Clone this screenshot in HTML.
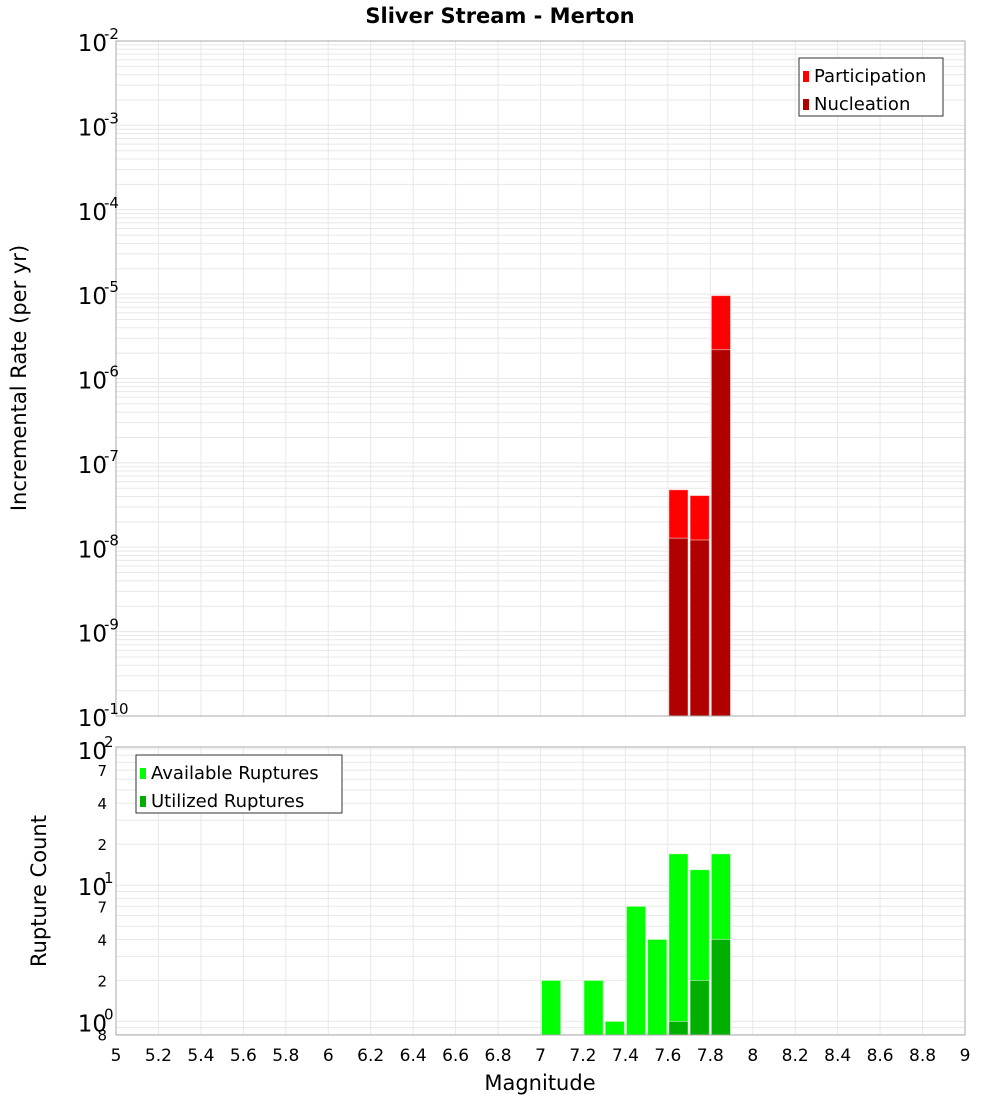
<!DOCTYPE html>
<html><head><meta charset="utf-8"><style>
body{margin:0;background:#fff;}
svg text{font-family:"DejaVu Sans","Liberation Sans",sans-serif;}
</style></head><body>
<svg id="chart" width="1000" height="1100" xmlns="http://www.w3.org/2000/svg">
<text x="500" y="23" text-anchor="middle" font-size="21" font-weight="bold">Sliver Stream - Merton</text>
<text transform="translate(26,378) rotate(-90)" text-anchor="middle" font-size="21">Incremental Rate (per yr)</text>
<text transform="translate(46,891) rotate(-90)" text-anchor="middle" font-size="21">Rupture Count</text>
<text x="540" y="1090" text-anchor="middle" font-size="21">Magnitude</text>
<g id="g"></g>
</svg>
<script>
const rateMags=[7.65,7.75,7.85];
const participation=[4.8e-8,4.1e-8,9.6e-6];
const nucleation=[1.28e-8,1.22e-8,2.2e-6];
const countMags=[7.05,7.25,7.35,7.45,7.55,7.65,7.75,7.85];
const available=[2,2,1,7,4,17,13,17];
const utilMags=[7.65,7.75,7.85];
const utilized=[1,2,4];
const xTicks=["5","5.2","5.4","5.6","5.8","6","6.2","6.4","6.6","6.8","7","7.2","7.4","7.6","7.8","8","8.2","8.4","8.6","8.8","9"];
const topExps=[-2,-3,-4,-5,-6,-7,-8,-9,-10];
const botMinorLabels=[[7,70],[4,40],[2,20],[7,7],[4,4],[2,2],[8,0.8]];

const NS="http://www.w3.org/2000/svg";
const g=document.getElementById('g');
function el(t,a,p){const e=document.createElementNS(NS,t);for(const k in a)e.setAttribute(k,a[k]);(p||g).appendChild(e);return e;}
const L=116,R=965;
const x=m=>L+(m-5)/4*(R-L);
const T1=41,B1=716; const yTop=v=>T1+(-2-Math.log10(v))/8*(B1-T1);
const T2=747,B2=1035,lmax=2.015,lmin=-0.1; const yBot=v=>T2+(lmax-Math.log10(v))/(lmax-lmin)*(B2-T2);

// grids
for(let m=5.2;m<9;m+=0.2){
 for(const [t,b] of [[T1,B1],[T2,B2]]){const ln=el('line',{x1:x(m),x2:x(m),y1:t,y2:b,stroke:'#e8e8e8'});
 }
}
for(let e=-10;e<-2;e++)for(let k=1;k<10;k++){const v=k*Math.pow(10,e);const yy=yTop(v);if(yy<T1||yy>B1)continue;
 const ln=el('line',{x1:L,x2:R,y1:yy,y2:yy,stroke:'#e8e8e8'});}
for(let e=-1;e<3;e++)for(let k=1;k<10;k++){const v=k*Math.pow(10,e);const yy=yBot(v);if(yy<T2||yy>B2)continue;
 const ln=el('line',{x1:L,x2:R,y1:yy,y2:yy,stroke:'#e8e8e8'});}

function bar(m,v,yf,base,fill,name){
 const y0=yf(v);const r=el('rect',{x:x(m-0.05)+1,y:y0,width:x(m+0.05)-x(m-0.05)-2,height:base-y0,fill:fill,stroke:'#fff','stroke-opacity':0.5});
 }
rateMags.forEach((m,i)=>bar(m,participation[i],yTop,B1,'#ff0000','participation-bar'));
rateMags.forEach((m,i)=>bar(m,nucleation[i],yTop,B1,'#b00000','nucleation-bar'));
countMags.forEach((m,i)=>bar(m,available[i],yBot,B2,'#00ff00','available-bar'));
utilMags.forEach((m,i)=>bar(m,utilized[i],yBot,B2,'#00b000','utilized-bar'));

// frames
for(const [t,b,n] of [[T1,B1,'top-plot-frame'],[T2,B2,'bottom-plot-frame']]){
 const f=el('rect',{x:L,y:t,width:R-L,height:b-t,fill:'none',stroke:'#aaa'});}

// x ticks
xTicks.forEach(s=>{const t=el('text',{x:x(parseFloat(s)),y:1061,'text-anchor':'middle','font-size':17});t.textContent=s;
 });
// top y ticks
topExps.forEach(e=>{const yy=yTop(Math.pow(10,e));const t=el('text',{x:107,y:yy+10,'text-anchor':'end','font-size':23});
 t.textContent='10';
 const s=el('text',{x:104,y:yy-2,'font-size':15});s.textContent=String(e);});
// bottom y ticks
[[2,100],[1,10],[0,1]].forEach(([e,v])=>{const yy=yBot(v);const t=el('text',{x:107,y:yy+10,'text-anchor':'end','font-size':23});
 t.textContent='10';
 const s=el('text',{x:104,y:yy-2,'font-size':15});s.textContent=String(e);});
botMinorLabels.forEach(([lab,v])=>{const yy=yBot(v);const t=el('text',{x:107,y:yy+6,'text-anchor':'end','font-size':15});
 t.textContent=String(lab);});

// legends
function legend(x0,y0,w,items,name){
 const lg=el('g',{});
 el('rect',{x:x0,y:y0,width:w,height:58,fill:'#fff',stroke:'#333'},lg);
 items.forEach(([c,s],i)=>{const yy=y0+14+i*28;
  const sw=el('rect',{x:x0+4,y:yy-1,width:6,height:11,fill:c},lg);
  const t=el('text',{x:x0+15,y:yy+10,'font-size':18},lg);t.textContent=s;});
}
legend(799,58,144,[['#ff0000','Participation'],['#b00000','Nucleation']],'top-legend');
legend(136,755,206,[['#00ff00','Available Ruptures'],['#00b000','Utilized Ruptures']],'bottom-legend');
</script>
</body></html>
